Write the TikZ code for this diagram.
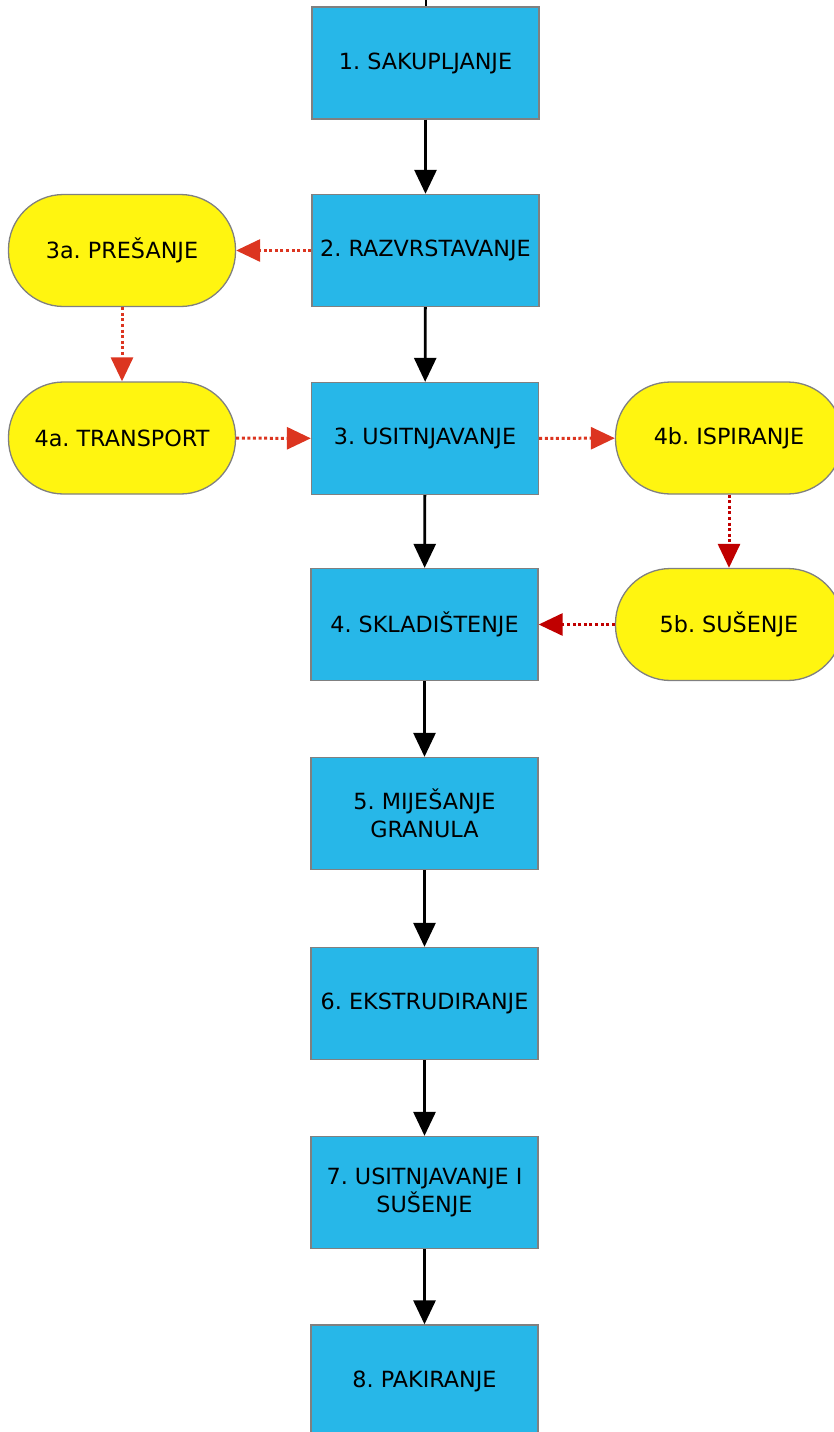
\documentclass[tikz,border=0pt]{standalone}
\usepackage{fontspec}
\setmainfont{DejaVu Sans}
\usepackage{tikz}
\usetikzlibrary{arrows.meta}

\definecolor{boxblue}{HTML}{27B7E8}
\definecolor{sideyellow}{HTML}{FFF510}
\definecolor{sidered}{HTML}{DC3520}
\definecolor{darkred}{HTML}{C00000}
\definecolor{rimgray}{HTML}{808080}
\frenchspacing

\begin{document}
\begin{tikzpicture}[x=1pt,y=-1pt,
    font=\fontsize{22.3}{27.5}\selectfont,
    stage/.style={draw=rimgray,line width=1.3pt,fill=boxblue,minimum width=227pt,minimum height=112pt,align=center,inner sep=2pt},
    side/.style={draw=rimgray,line width=1.3pt,fill=sideyellow,rounded corners=55pt,minimum width=227pt,minimum height=112pt,align=center},
    flow/.style={line width=2.8pt,-{Triangle[width=22pt,length=24pt]}},
    aside/.style={sidered,line width=3pt,dash pattern=on 3pt off 2.6pt,-{Triangle[width=22pt,length=24pt]}},
    bside/.style={aside,darkred}]
      \useasboundingbox (0,0) rectangle (833,1432);
      \coordinate (top) at (426,0);
      \draw[line width=2.8pt] (top)--(426,10);
      \node[stage] (s1) at (425.5,63) {1. SAKUPLJANJE};
      \node[stage] (s2) at (425.5,250.5) {2. RAZVRSTAVANJE};
      \node[stage] (s3) at (425,438.5) {3. USITNJAVANJE};
      \node[stage] (s4) at (424.5,624.5) {4. SKLADIŠTENJE};
      \node[stage] (s5) at (424.5,813.5) {5. MIJEŠANJE\\GRANULA};
      \node[stage] (s6) at (424.5,1003.5) {6. EKSTRUDIRANJE};
      \node[stage] (s7) at (424.5,1192.5) {7. USITNJAVANJE I\\SUŠENJE};
      \node[stage] (s8) at (424.5,1381) {8. PAKIRANJE};
      \node[side] (p3a) at (122,250.5) {3a. PREŠANJE};
      \node[side] (t4a) at (122,438) {4a. TRANSPORT};
      \node[side] (i4b) at (729,438) {4b. ISPIRANJE};
      \node[side] (s5b) at (729,624.5) {5b. SUŠENJE};
      \draw[flow] (s1)--(s2);
      \draw[flow] (s2)--(s3);
      \draw[flow] (s3)--(s4);
      \draw[flow] (s4)--(s5);
      \draw[flow] (s5)--(s6);
      \draw[flow] (s6)--(s7);
      \draw[flow] (s7)--(s8);
      \draw[aside] (s2)--(p3a);
      \draw[aside] (p3a)--(t4a);
      \draw[aside] (t4a)--(s3);
      \draw[aside] (s3)--(i4b);
      \draw[bside] (i4b)--(s5b);
      \draw[bside] (s5b)--(s4);
    \end{tikzpicture}
\end{document}
